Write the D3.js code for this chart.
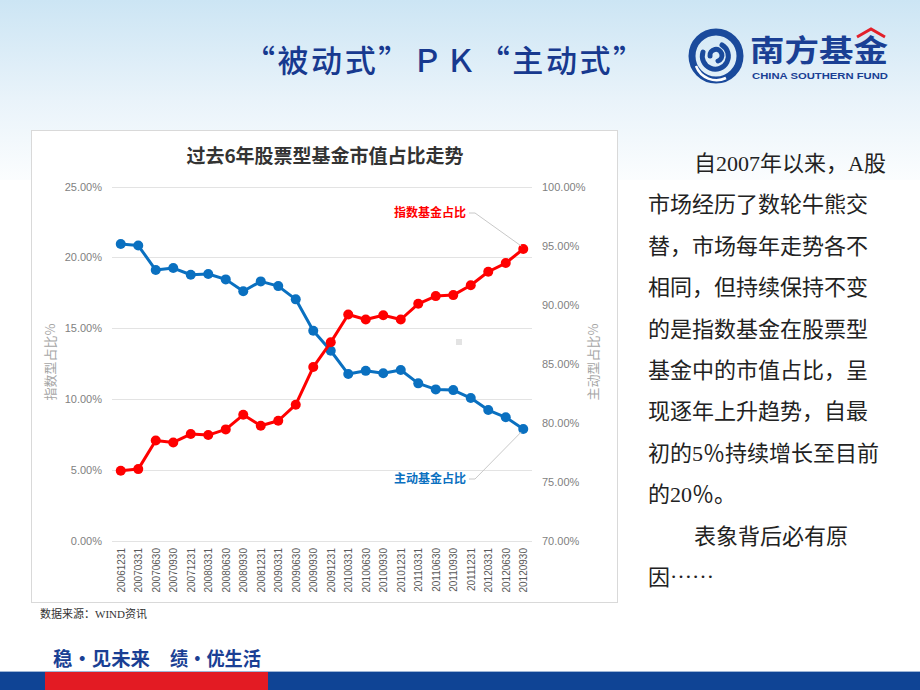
<!DOCTYPE html>
<html>
<head>
<meta charset="utf-8">
<script src="https://cdn.jsdelivr.net/npm/d3@7"></script>
<style>
  html, body { margin: 0; padding: 0; background: #fff; }
  svg { display: block; }
</style>
</head>
<body>
<svg id="slide" width="920" height="690"></svg>
<script>
// data
const dates = ["20061231","20070331","20070630","20070930","20071231","20080331","20080630","20080930",
  "20081231","20090331","20090630","20090930","20091231","20100331","20100630","20100930",
  "20101231","20110331","20110630","20110930","20111231","20120331","20120630","20120930"];
const indexShare = [4.95, 5.07, 7.09, 6.95, 7.54, 7.47, 7.87, 8.90, 8.13, 8.48, 9.61, 12.27,
  14.01, 15.97, 15.62, 15.92, 15.62, 16.73, 17.27, 17.34, 18.04, 18.99, 19.60, 20.59];
const activeShare = [95.13, 95.00, 92.93, 93.10, 92.53, 92.60, 92.14, 91.13, 91.97, 91.57, 90.45, 87.79,
  86.10, 84.13, 84.40, 84.19, 84.47, 83.34, 82.83, 82.77, 82.10, 81.08, 80.47, 79.48];
const leftTicks = [0, 5, 10, 15, 20, 25];
const rightTicks = [70, 75, 80, 85, 90, 95, 100];

const bodyLines = [
  {t: "自2007年以来，A股", indent: true},
  {t: "市场经历了数轮牛熊交"},
  {t: "替，市场每年走势各不"},
  {t: "相同，但持续保持不变"},
  {t: "的是指数基金在股票型"},
  {t: "基金中的市值占比，呈"},
  {t: "现逐年上升趋势，自最"},
  {t: "初的5％持续增长至目前"},
  {t: "的20％。"},
  {t: "表象背后必有原", indent: true},
  {t: "因", tail: "……"}
];

const svg = d3.select("#slide");
const defs = svg.append("defs");
const grad = defs.append("linearGradient").attr("id", "bg").attr("x1", 0).attr("x2", 0).attr("y1", 0).attr("y2", 1);
grad.append("stop").attr("offset", "0%").attr("stop-color", "#cce5f4");
grad.append("stop").attr("offset", "55%").attr("stop-color", "#e9f3fa");
grad.append("stop").attr("offset", "100%").attr("stop-color", "#fbfdfe");

svg.append("rect").attr("width", 920).attr("height", 690).attr("fill", "#fff");
svg.append("rect").attr("width", 920).attr("height", 180).attr("fill", "url(#bg)");

// slide title
svg.append("text")
  .attr("x", 244).attr("y", 72)
  .attr("textLength", 400).attr("lengthAdjust", "spacing")
  .style("font", "500 31px 'Noto Sans CJK SC'")
  .attr("fill", "#17398f")
  .text("“被动式”ＰＫ“主动式”");

// logo
const logo = svg.append("g").attr("transform", "translate(716,56)");
logo.append("circle").attr("r", 24).attr("fill", "none").attr("stroke", "#1a4a9c").attr("stroke-width", 7);
logo.append("path")
  .attr("d", "M-13,-4 A13,13 0 1,0 6,-11 M-6,0 A6,6 0 1,1 2,5")
  .attr("fill", "none").attr("stroke", "#1a4a9c").attr("stroke-width", 5).attr("stroke-linecap", "round");
logo.append("path").attr("d", "M-20,10 A22,22 0 0,0 10,22").attr("fill", "none").attr("stroke", "#fff").attr("stroke-width", 2.5);
svg.append("text").attr("x", 750).attr("y", 61)
  .attr("textLength", 138).attr("lengthAdjust", "spacingAndGlyphs")
  .style("font", "bold 30px 'Noto Sans CJK SC'").attr("fill", "#1a3f94").text("南方基金");
svg.append("path").attr("d", "M857,37 L871,29 L885,37").attr("fill", "none").attr("stroke", "#e3202a").attr("stroke-width", 3);
svg.append("text").attr("x", 752).attr("y", 79)
  .attr("textLength", 136).attr("lengthAdjust", "spacingAndGlyphs")
  .style("font", "bold 9.5px 'Liberation Sans'").attr("fill", "#1a3f94").text("CHINA SOUTHERN FUND");

// chart box
svg.append("rect").attr("x", 31.5).attr("y", 130.5).attr("width", 586).attr("height", 472)
  .attr("fill", "#fff").attr("stroke", "#d9d9d9");

svg.append("text").attr("x", 325).attr("y", 163).attr("text-anchor", "middle")
  .style("font", "bold 19px 'Noto Sans CJK SC'").attr("fill", "#333")
  .text("过去6年股票型基金市值占比走势");

const x = d3.scalePoint().domain(dates).range([112, 532]).padding(0.5);
const yL = d3.scaleLinear().domain([0, 25]).range([541, 186.5]);
const yR = d3.scaleLinear().domain([70, 100]).range([541, 186.5]);
const pct = d3.format(".2%");

// gridlines
svg.append("g").selectAll("line").data(leftTicks).join("line")
  .attr("x1", 112).attr("x2", 532)
  .attr("y1", d => Math.round(yL(d)) + 0.5).attr("y2", d => Math.round(yL(d)) + 0.5)
  .attr("stroke", "#e3e3e3").attr("stroke-width", 1);

const leftAxis = svg.append("g").attr("transform", "translate(112,0)")
  .call(d3.axisLeft(yL).tickValues(leftTicks).tickSize(0).tickPadding(10).tickFormat(d => pct(d / 100)));
const rightAxis = svg.append("g").attr("transform", "translate(532,0)")
  .call(d3.axisRight(yR).tickValues(rightTicks).tickSize(0).tickPadding(10).tickFormat(d => pct(d / 100)));
[leftAxis, rightAxis].forEach(a => {
  a.select(".domain").remove();
  a.selectAll("text").style("font", "11px 'Liberation Sans'").attr("fill", "#7f7f7f");
});

const xAxis = svg.append("g").attr("transform", "translate(0,541)")
  .call(d3.axisBottom(x).tickSize(0));
xAxis.select(".domain").remove();
xAxis.selectAll("text")
  .style("font", "10px 'Liberation Sans'").attr("fill", "#595959")
  .attr("text-anchor", "end")
  .attr("transform", "rotate(-90)")
  .attr("x", -7).attr("y", 0).attr("dy", "0.35em");

// axis titles
svg.append("text").attr("transform", "translate(55,362) rotate(-90)").attr("text-anchor", "middle")
  .style("font", "13px 'Noto Sans CJK SC'").attr("fill", "#a6a6a6").text("指数型占比%");
svg.append("text").attr("transform", "translate(598,362) rotate(-90)").attr("text-anchor", "middle")
  .style("font", "13px 'Noto Sans CJK SC'").attr("fill", "#a6a6a6").text("主动型占比%");

svg.append("rect").attr("x", 456).attr("y", 339).attr("width", 6).attr("height", 6).attr("fill", "#e3e3e3");

// series
const series = [
  {name: "主动基金占比", values: activeShare, y: yR, color: "#0a70c0"},
  {name: "指数基金占比", values: indexShare, y: yL, color: "#ff0000"}
];
series.forEach(s => {
  const line = d3.line().x((d, i) => x(dates[i])).y(d => s.y(d));
  svg.append("path").datum(s.values).attr("d", line)
    .attr("fill", "none").attr("stroke", s.color).attr("stroke-width", 3).attr("stroke-linejoin", "round");
  svg.append("g").selectAll("circle").data(s.values).join("circle")
    .attr("cx", (d, i) => x(dates[i])).attr("cy", d => s.y(d)).attr("r", 5)
    .attr("fill", s.color);
});

// data labels with leader lines
const lastDate = dates[dates.length - 1];
const labels = [
  {s: series[1], ty: 213},
  {s: series[0], ty: 479}
];
labels.forEach(l => {
  const px = x(lastDate), py = l.s.y(l.s.values[l.s.values.length - 1]);
  svg.append("path")
    .attr("d", `M469,${l.ty} L475,${l.ty} L${px - 2},${py + (py > l.ty ? -3 : 3)}`)
    .attr("fill", "none").attr("stroke", "#c8c8c8").attr("stroke-width", 1);
  svg.append("text").attr("x", 466).attr("y", l.ty + 4).attr("text-anchor", "end")
    .style("font", "bold 12px 'Noto Sans CJK SC'").attr("fill", l.s.color).text(l.s.name);
});

svg.append("text").attr("x", 40).attr("y", 618)
  .style("font", "11px 'Liberation Serif', 'Noto Sans CJK SC'").attr("fill", "#333")
  .text("数据来源：WIND资讯");

// right paragraph
const para = svg.append("g").selectAll("text").data(bodyLines).join("text")
  .attr("x", d => d.indent ? 694 : 648)
  .attr("y", (d, i) => 171 + i * 41.4)
  .style("font", "22px 'Liberation Serif', 'Noto Sans CJK SC'")
  .attr("fill", "#222")
  .text(d => d.t);
para.filter(d => d.tail).append("tspan").attr("dy", -7).text(d => d.tail);

// footer
svg.append("text").attr("x", 53).attr("y", 666)
  .attr("textLength", 97).attr("lengthAdjust", "spacingAndGlyphs")
  .style("font", "bold 19px 'Noto Sans CJK SC'").attr("fill", "#1a3f94")
  .text("稳·见未来");
svg.append("text").attr("x", 170).attr("y", 666)
  .attr("textLength", 91).attr("lengthAdjust", "spacingAndGlyphs")
  .style("font", "bold 19px 'Noto Sans CJK SC'").attr("fill", "#1a3f94")
  .text("绩·优生活");
svg.append("rect").attr("x", 0).attr("y", 671).attr("width", 920).attr("height", 1).attr("fill", "#9fb6d6");
svg.append("rect").attr("x", 0).attr("y", 672).attr("width", 920).attr("height", 18).attr("fill", "#0f4495");
svg.append("rect").attr("x", 45).attr("y", 672).attr("width", 223).attr("height", 18).attr("fill", "#e31b23");
</script>
</body>
</html>
